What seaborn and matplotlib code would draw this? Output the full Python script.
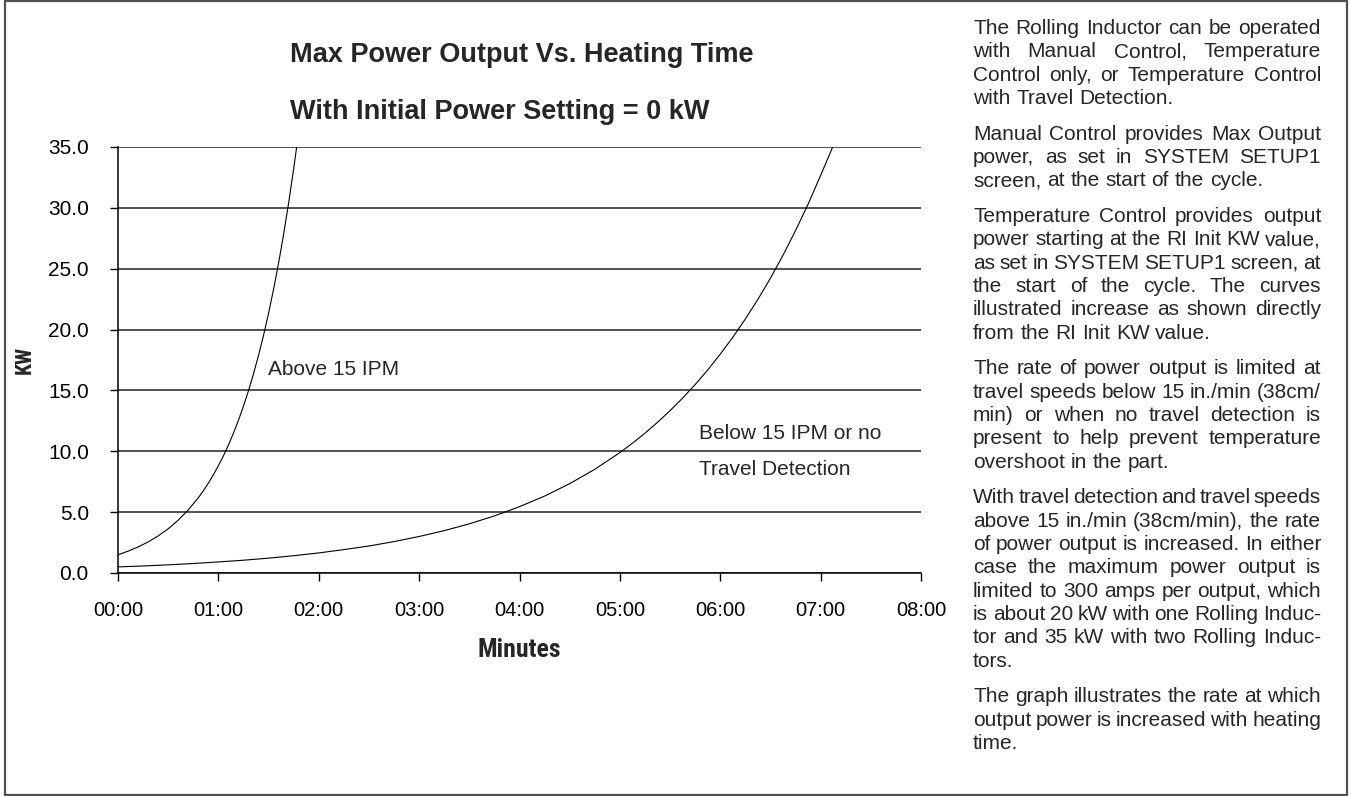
import matplotlib
matplotlib.use("Agg")
import matplotlib.pyplot as plt
import matplotlib.patches as mpatches
from matplotlib import font_manager
from matplotlib.font_manager import FontProperties
import pandas as pd
import seaborn as sns

# ---------------------------------------------------------------- data
# Heating time in minutes and maximum power output in kW
above_t = [0.0, 0.1, 0.2, 0.3, 0.4, 0.5, 0.6, 0.7, 0.8, 0.85, 0.9, 0.95,
           1.0, 1.05, 1.1, 1.15, 1.2, 1.25, 1.3, 1.35, 1.4, 1.45, 1.5,
           1.55, 1.6, 1.65, 1.7, 1.75, 1.78]
above_kw = [1.50, 1.79, 2.14, 2.55, 3.05, 3.63, 4.34, 5.18, 6.18, 6.75, 7.38,
            8.06, 8.81, 9.62, 10.51, 11.48, 12.55, 13.71, 14.98, 16.36, 17.88,
            19.53, 21.34, 23.31, 25.47, 27.83, 30.40, 33.21, 35.00]

below_t = [0.0, 0.25, 0.5, 0.75, 1.0, 1.25, 1.5, 1.75, 2.0, 2.25, 2.5, 2.75,
           3.0, 3.25, 3.5, 3.75, 4.0, 4.25, 4.5, 4.75, 5.0, 5.125, 5.25,
           5.375, 5.5, 5.625, 5.75, 5.875, 6.0, 6.125, 6.25, 6.375, 6.5,
           6.625, 6.75, 6.875, 7.0, 7.12]
below_kw = [0.50, 0.58, 0.67, 0.78, 0.91, 1.05, 1.22, 1.42, 1.65, 1.92, 2.22,
            2.58, 3.00, 3.48, 4.04, 4.69, 5.45, 6.32, 7.34, 8.52, 9.89, 10.66,
            11.49, 12.38, 13.34, 14.37, 15.48, 16.68, 17.98, 19.36, 20.87,
            22.48, 24.22, 26.10, 28.13, 30.30, 32.66, 35.00]

x_ticks = [0, 1, 2, 3, 4, 5, 6, 7, 8]
x_tick_labels = ["00:00", "01:00", "02:00", "03:00", "04:00", "05:00",
                 "06:00", "07:00", "08:00"]
y_ticks = [0, 5, 10, 15, 20, 25, 30, 35]
y_tick_labels = ["0.0", "5.0", "10.0", "15.0", "20.0", "25.0", "30.0", "35.0"]

title_lines = ["Max Power Output Vs. Heating Time",
               "With Initial Power Setting = 0 kW"]

paragraphs = [
    ["The Rolling Inductor can be operated",
     "with Manual Control, Temperature",
     "Control only, or Temperature Control",
     "with Travel Detection."],
    ["Manual Control provides Max Output",
     "power, as set in SYSTEM SETUP1",
     "screen, at the start of the cycle."],
    ["Temperature Control provides output",
     "power starting at the RI Init KW value,",
     "as set in SYSTEM SETUP1 screen, at",
     "the start of the cycle. The curves",
     "illustrated increase as shown directly",
     "from the RI Init KW value."],
    ["The rate of power output is limited at",
     "travel speeds below 15 in./min (38cm/",
     "min) or when no travel detection is",
     "present to help prevent temperature",
     "overshoot in the part."],
    ["With travel detection and travel speeds",
     "above 15 in./min (38cm/min), the rate",
     "of power output is increased. In either",
     "case the maximum power output is",
     "limited to 300 amps per output, which",
     "is about 20 kW with one Rolling Induc-",
     "tor and 35 kW with two Rolling Induc-",
     "tors."],
    ["The graph illustrates the rate at which",
     "output power is increased with heating",
     "time."],
]

# ---------------------------------------------------------------- style
sns.set_theme(style="white")
plt.rcParams["font.family"] = ["Liberation Sans", "DejaVu Sans"]


def find_narrow_bold():
    """Look for a condensed bold sans face; fall back to Liberation Sans bold."""
    prefs = ["Liberation Sans Narrow", "Arial Narrow", "Roboto Condensed",
             "Open Sans Condensed", "DejaVu Sans"]
    faces = font_manager.fontManager.ttflist
    for name in prefs:
        for f in faces:
            if f.name == name and f.stretch in ("condensed", "semi-condensed") \
                    or (f.name == name and "Narrow" in name):
                if f.weight in ("bold", 700, "700"):
                    return FontProperties(fname=f.fname)
    return FontProperties(family="Liberation Sans", weight="bold")


narrow_bold = find_narrow_bold()

W, H = 1351, 796
fig = plt.figure(figsize=(W / 100, H / 100), dpi=100)


def fx(px):
    return px / W


def fy(py):
    return 1 - py / H


# plot area in pixel coordinates
ax_l, ax_r, ax_t, ax_b = 118, 921, 147, 573
ax = fig.add_axes([fx(ax_l), fy(ax_b), fx(ax_r) - fx(ax_l), fy(ax_t) - fy(ax_b)])

df = pd.concat([
    pd.DataFrame({"t": above_t, "kw": above_kw, "series": "above"}),
    pd.DataFrame({"t": below_t, "kw": below_kw, "series": "below"}),
])
for name, sub in df.groupby("series"):
    sns.lineplot(data=sub, x="t", y="kw", ax=ax, color="black", lw=0.8,
                 estimator=None, sort=False, zorder=3)

ax.set_xlim(0, 8)
ax.set_ylim(0, 35)
ax.set_xticks(x_ticks)
ax.set_xticklabels(x_tick_labels, fontsize=14.5, color="black")
ax.set_yticks(y_ticks)
ax.set_yticklabels(y_tick_labels, fontsize=15, color="black")
ax.tick_params(axis="both", which="major", direction="out", length=6,
               width=1.0, color="black", bottom=True, left=True)
ax.tick_params(axis="y", pad=15)
ax.tick_params(axis="x", pad=14)
ax.grid(axis="y", color="#222222", lw=1.1)
ax.grid(axis="x", visible=False)
for s in ["top", "right"]:
    ax.spines[s].set_visible(False)
for s in ["left", "bottom"]:
    ax.spines[s].set_color("black")
    ax.spines[s].set_linewidth(1.1)

mp = narrow_bold.copy()
mp.set_size(18.5)
ax.set_xlabel("Minutes", fontproperties=mp, labelpad=13)
kp = narrow_bold.copy()
kp.set_size(15.5)
ax.set_ylabel("KW", fontproperties=kp, labelpad=9)

ax.text(1.494, 16.27, "Above 15 IPM", fontsize=15, va="baseline", ha="left")
ax.text(5.787, 11.01, "Below 15 IPM or no", fontsize=15, va="baseline", ha="left")
ax.text(5.787, 8.05, "Travel Detection", fontsize=15, va="baseline", ha="left")

# titles
fig.text(fx(290), fy(62), title_lines[0], fontsize=19.5, fontweight="bold",
         va="baseline", ha="left")
fig.text(fx(290), fy(119), title_lines[1], fontsize=19.5, fontweight="bold",
         va="baseline", ha="left")

# outer frame
fig.add_artist(mpatches.Rectangle((fx(5), fy(795)), fx(1347) - fx(5),
                                  fy(1) - fy(795), transform=fig.transFigure,
                                  fill=False, ec="#505050", lw=1.6))

# justified side text
renderer = fig.canvas.get_renderer()
col_l, col_r = 973, 1321
text_size = 15


def word_width(word):
    t = fig.text(0, 0, word, fontsize=text_size)
    w = t.get_window_extent(renderer).width
    t.remove()
    return w


space_w = word_width("a a") - word_width("aa")

baseline = 34.0
line_step = 23.33
para_step = 35.67
for p_idx, para in enumerate(paragraphs):
    for l_idx, line in enumerate(para):
        words = line.split(" ")
        widths = [word_width(w) for w in words]
        last = l_idx == len(para) - 1
        if last or len(words) == 1:
            gap = space_w
        else:
            gap = (col_r - col_l - sum(widths)) / (len(words) - 1)
        x = col_l
        for w, wd in zip(words, widths):
            fig.text(fx(x), fy(baseline), w, fontsize=text_size,
                     va="baseline", ha="left")
            x += wd + gap
        if not last:
            baseline += line_step
    baseline += para_step

fig.savefig("out.png", dpi=100)
